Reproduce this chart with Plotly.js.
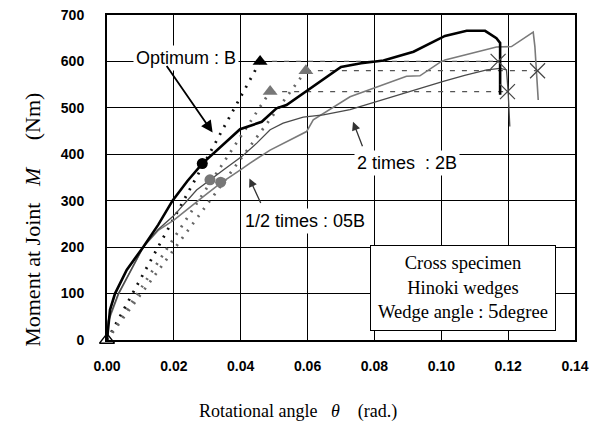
<!DOCTYPE html>
<html>
<head>
<meta charset="utf-8">
<script src="https://cdn.plot.ly/plotly-3.0.1.min.js"></script>
<style>html,body{margin:0;padding:0;background:#fff;}#chart{width:589px;height:423px;}</style>
</head>
<body>
<div id="chart"></div>
<script>
// Optimum : B (thick)
const thetaB  = [0, 0.0009, 0.0024, 0.0059, 0.0109, 0.0153, 0.0196, 0.0240, 0.0285, 0.0345, 0.0398, 0.0463, 0.0507, 0.0537, 0.0602, 0.0700, 0.0760, 0.0827, 0.0917, 0.1011, 0.1076, 0.1131, 0.1165, 0.1176, 0.1176];
const momentB = [0, 65, 100, 151, 201, 248, 300, 342, 380, 420, 454, 470, 499, 506, 539, 588, 596, 602, 621, 655, 666, 666, 650, 640, 528];
// 2 times : 2B
const theta2B  = [0, 0.0004, 0.0034, 0.0069, 0.0109, 0.0153, 0.0200, 0.0268, 0.0308, 0.0348, 0.0403, 0.0448, 0.0488, 0.0527, 0.0587, 0.0647, 0.0727, 0.0800, 0.0867, 0.0940, 0.1006, 0.1070, 0.1136, 0.1176, 0.1195, 0.1200, 0.1205];
const moment2B = [0, 43, 100, 147, 201, 238, 268, 323, 345, 366, 395, 424, 453, 467, 480, 485, 496, 512, 528, 543, 557, 570, 582, 585, 582, 535, 460];
// 1/2 times : 05B
const theta05B  = [0, 0.0004, 0.0034, 0.0069, 0.0109, 0.0153, 0.0200, 0.0288, 0.0340, 0.0398, 0.0428, 0.0488, 0.0547, 0.0597, 0.0617, 0.0647, 0.0727, 0.0797, 0.0896, 0.0936, 0.0996, 0.1011, 0.1106, 0.1165, 0.1210, 0.1275, 0.1280, 0.1285, 0.1290];
const moment05B = [0, 40, 98, 145, 201, 236, 258, 309, 338, 366, 381, 409, 431, 449, 474, 488, 524, 542, 568, 569, 598, 603, 621, 631, 632, 663, 632, 582, 517];

// characteristic points: [B, 2B, 05B]
const triTheta = [0.0458, 0.0488, 0.0595];
const triMoment = [600, 535, 580];
const circTheta = [0.0285, 0.0308, 0.0340];
const circMoment = [380, 345, 340];
const xTheta = [0.1170, 0.1198, 0.1288];
const xMoment = [600, 535, 580];

const xTicks = [0, 0.02, 0.04, 0.06, 0.08, 0.10, 0.12, 0.14];
const xTickText = ['0.00', '0.02', '0.04', '0.06', '0.08', '0.10', '0.12', '0.14'];
const yTicks = [0, 100, 200, 300, 400, 500, 600, 700];

const markColors = ['#000000', '#777777', '#777777'];
const dotColors = ['#111111', '#666666', '#666666'];

const traces = [];
for (let i = 0; i < 3; i++) {
  traces.push({x: [0, triTheta[i]], y: [0, triMoment[i]], mode: 'lines', type: 'scatter',
    line: {color: dotColors[i], width: 2.8, dash: '2px,7px'}, hoverinfo: 'skip', showlegend: false});
  traces.push({x: [triTheta[i], xTheta[i]], y: [triMoment[i], xMoment[i]], mode: 'lines', type: 'scatter',
    line: {color: '#555555', width: 1.2, dash: '5px,7px'}, hoverinfo: 'skip', showlegend: false});
}
traces.push({x: theta05B, y: moment05B, mode: 'lines', type: 'scatter', line: {color: '#7a7a7a', width: 1.6}, showlegend: false});
traces.push({x: theta2B, y: moment2B, mode: 'lines', type: 'scatter', line: {color: '#4a4a4a', width: 1.3}, showlegend: false});
traces.push({x: thetaB, y: momentB, mode: 'lines', type: 'scatter', line: {color: '#000000', width: 2.6}, showlegend: false});
traces.push({x: triTheta, y: triMoment, mode: 'markers', type: 'scatter',
  marker: {symbol: 'triangle-up', size: 13, color: markColors, line: {width: 0}}, showlegend: false});
traces.push({x: circTheta, y: circMoment, mode: 'markers', type: 'scatter',
  marker: {symbol: 'circle', size: 11, color: markColors, line: {width: 0}}, showlegend: false});
traces.push({x: xTheta, y: xMoment, mode: 'markers', type: 'scatter',
  marker: {symbol: 'x-thin-open', size: 15, color: '#444444', line: {width: 1.2, color: '#444444'}}, showlegend: false});
traces.push({x: [thetaB[0]], y: [momentB[0]], mode: 'markers', type: 'scatter', cliponaxis: false,
  marker: {symbol: 'triangle-up-open', size: 13, color: '#000', line: {width: 1.3, color: '#000'}}, showlegend: false});

const sans = 'Liberation Sans, Arial, sans-serif';
const serif = 'Liberation Serif, Times New Roman, serif';

const layout = {
  width: 589, height: 423,
  margin: {l: 107, r: 14, t: 15, b: 83},
  paper_bgcolor: '#fff', plot_bgcolor: '#fff',
  showlegend: false,
  xaxis: {range: [0, 0.14], tickvals: xTicks, ticktext: xTickText, showgrid: true, gridcolor: '#000', gridwidth: 1,
    showline: true, mirror: true, linecolor: '#000', linewidth: 2, zeroline: false,
    ticks: 'inside', ticklen: 5, tickcolor: '#000', ticklabelstandoff: 12,
    tickfont: {family: sans, size: 14, color: '#000', weight: 'bold'}},
  yaxis: {range: [0, 700], tickvals: yTicks, showgrid: true, gridcolor: '#000', gridwidth: 1,
    showline: true, mirror: true, linecolor: '#000', linewidth: 2, zeroline: false,
    ticks: '', ticklabelstandoff: 18, tickfont: {family: sans, size: 14, color: '#000', weight: 'bold'}},
  annotations: [
    {xref: 'paper', yref: 'paper', x: 0.408, y: -0.2215, xanchor: 'center', yanchor: 'middle', showarrow: false,
     text: 'Rotational angle&#160;&#160;&#160;<i>θ</i>&#160;&#160;&#160;&#160;(rad.)', font: {family: serif, size: 18, color: '#000'}},
    {xref: 'paper', yref: 'paper', x: -0.158, y: 0.37, xanchor: 'center', yanchor: 'middle', showarrow: false, textangle: -90,
     text: 'Moment at Joint&#160;&#160;&#160;<i>M</i>&#160;&#160;&#160;&#160;&#160;(Nm)', font: {family: serif, size: 22, color: '#000'}},
    {xref: 'x', yref: 'y', x: 0.0236, y: 608, showarrow: false, bgcolor: '#fff', borderpad: 2,
     text: 'Optimum : B', font: {family: sans, size: 18, color: '#000'}},
    {xref: 'x', yref: 'y', x: 0.0897, y: 381, showarrow: false, bgcolor: '#fff', borderpad: 2,
     text: '2 times&#160;&#160;: 2B', font: {family: sans, size: 18, color: '#000'}},
    {xref: 'x', yref: 'y', x: 0.0592, y: 256, showarrow: false, bgcolor: '#fff', borderpad: 2,
     text: '1/2 times : 05B', font: {family: sans, size: 18, color: '#000'}},
    {xref: 'x', yref: 'y', x: 0.0316, y: 447, text: '', showarrow: true, ax: -47, ay: -68,
     arrowhead: 2, arrowsize: 1.3, arrowwidth: 1.8, arrowcolor: '#000'},
    {xref: 'x', yref: 'y', x: 0.0736, y: 470, text: '', showarrow: true, ax: 10, ay: 26,
     arrowhead: 2, arrowsize: 1.3, arrowwidth: 1.3, arrowcolor: '#333'},
    {xref: 'x', yref: 'y', x: 0.0426, y: 348, text: '', showarrow: true, ax: 12, ay: 26,
     arrowhead: 2, arrowsize: 1.3, arrowwidth: 1.3, arrowcolor: '#333'},
    {xref: 'x', yref: 'y', x: 0.1064, y: 113, xanchor: 'center', yanchor: 'middle', showarrow: false,
     bgcolor: '#fff', bordercolor: '#000', borderwidth: 1, borderpad: 1, width: 182, height: 82,
     text: 'Cross specimen<br>Hinoki wedges<br>Wedge angle : <span style="font-size:21px">5</span>degree',
     font: {family: serif, size: 18.5, color: '#000'}}
  ]
};

Plotly.newPlot('chart', traces, layout, {staticPlot: true, displayModeBar: false});
</script>
</body>
</html>
